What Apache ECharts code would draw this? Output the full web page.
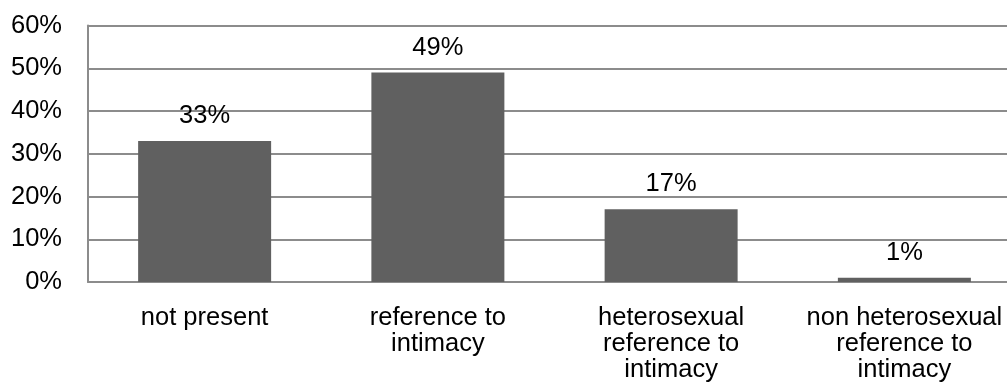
<!DOCTYPE html>
<html><head><meta charset="utf-8">
<script src="https://cdn.jsdelivr.net/npm/echarts@6/dist/echarts.min.js"></script>
<style>html,body{margin:0;padding:0;background:#fff}#c{width:1007px;height:386px}</style>
</head><body><div id="c"></div>
<script>
const categories = ["not present", "reference to\nintimacy", "heterosexual\nreference to\nintimacy", "non heterosexual\nreference to\nintimacy"];
const values = [33, 49, 17, 1];
const yTicks = { min: 0, max: 60, interval: 10 };

const chart = echarts.init(document.getElementById('c'), null, { renderer: 'canvas' });
const font = 'Liberation Sans, Arial, sans-serif';
chart.setOption({
  animation: false,
  grid: { left: 88, width: 933, top: 25.5, height: 256.5, containLabel: false, outerBoundsMode: 'none' },
  xAxis: {
    type: 'category',
    data: categories,
    axisLine: { show: true, lineStyle: { color: '#8c8c8c', width: 2 } },
    axisTick: { show: false },
    axisLabel: { color: '#000', fontFamily: font, fontSize: 25.5, lineHeight: 26, margin: 23, interval: 0, hideOverlap: false }
  },
  yAxis: {
    type: 'value',
    min: yTicks.min, max: yTicks.max, interval: yTicks.interval,
    axisLine: { show: true, lineStyle: { color: '#8c8c8c', width: 2 } },
    axisTick: { show: false },
    splitLine: { show: true, lineStyle: { color: '#8c8c8c', width: 2 } },
    axisLabel: { color: '#000', fontFamily: font, fontSize: 25.5, margin: 26, formatter: v => v + '%' }
  },
  series: [{
    type: 'bar',
    data: values,
    barWidth: 133,
    itemStyle: { color: '#606060' },
    label: { show: true, position: 'top', distance: 12, color: '#000', fontFamily: font, fontSize: 25.5, formatter: p => p.value + '%' }
  }]
});
</script></body></html>
